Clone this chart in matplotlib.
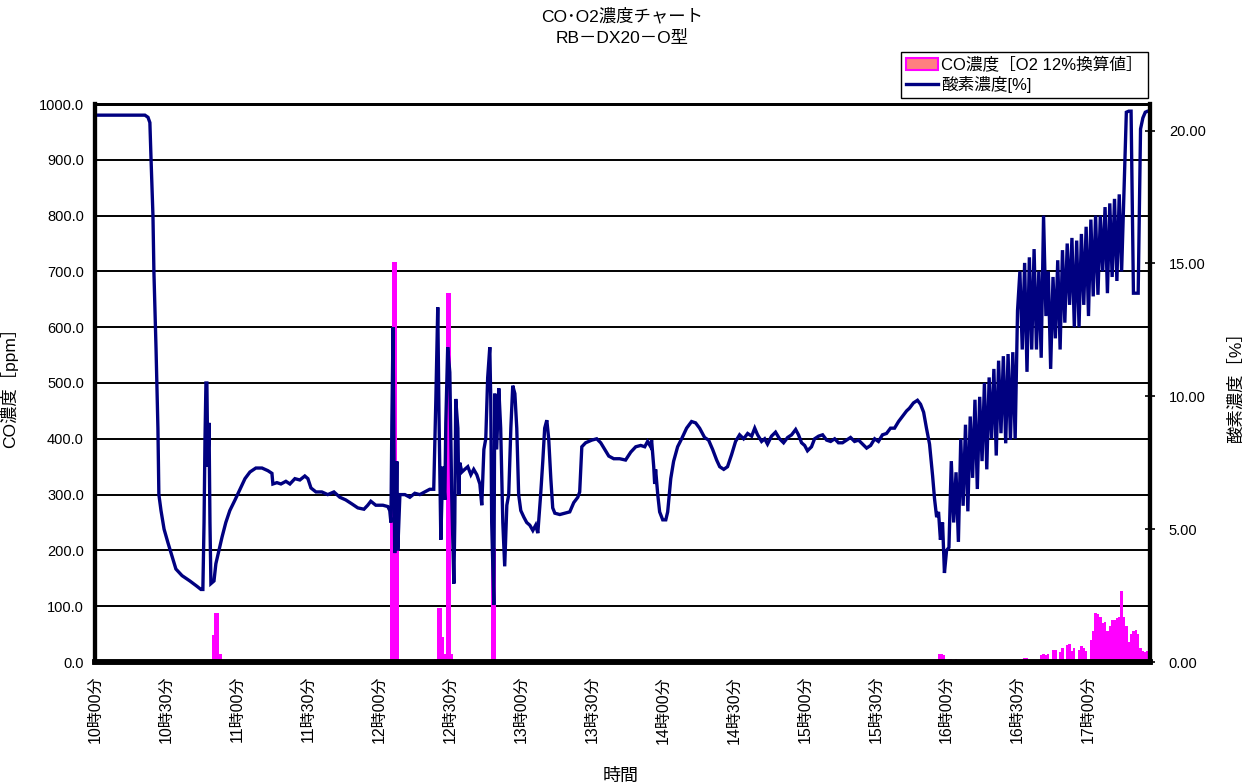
import matplotlib
matplotlib.use("Agg")
import matplotlib.pyplot as plt
from matplotlib.patches import Patch
from matplotlib.lines import Line2D

plt.rcParams["font.family"] = ["Liberation Sans", "Noto Sans CJK JP", "DejaVu Sans"]

# x axis: minutes after 10:00
time_labels = ["10時00分", "10時30分", "11時00分", "11時30分", "12時00分",
               "12時30分", "13時00分", "13時30分", "14時00分", "14時30分",
               "15時00分", "15時30分", "16時00分", "16時30分", "17時00分"]
tick_minutes = [0, 30, 60, 90, 120, 150, 180, 210, 240, 270, 300, 330, 360, 390, 420]

# CO concentration [ppm] (bars, left axis)
co_time = [50, 51, 52, 53,
           125, 126, 127, 128,
           144, 145, 146, 147, 148, 149, 150, 151,
           168, 169,
           357, 358, 359, 361, 362, 364,
           393, 394,
           400, 401, 402, 403, 405, 406, 408, 409,
           411, 412, 413, 414, 416, 417, 418, 419,
           421, 422, 423, 424, 425, 426, 427, 428, 429, 430,
           431, 432, 433, 434, 435, 436, 437, 438, 439, 440,
           441, 442, 443, 444, 445]
co_ppm = [48, 88, 88, 15,
          260, 717, 717, 250,
          5, 97, 97, 45, 15, 661, 661, 15,
          205, 205,
          15, 15, 12, 6, 6, 6,
          8, 8,
          12, 15, 12, 15, 22, 22, 18, 25,
          30, 32, 20, 25, 22, 28, 25, 20,
          40, 55, 88, 86, 80, 70, 72, 55, 65, 75,
          76, 78, 80, 127, 80, 65, 35, 50, 55, 58,
          50, 25, 20, 18, 20]

# oxygen concentration [%] (line, right axis)
o2_time = [0, 21.1, 22.4, 23.2, 23.7, 24.5, 24.9, 25.8, 26.6, 27.0,
           27.9, 29.2, 30.8, 32.5, 34.2, 36.8, 40.1, 43.1, 44.8, 45.6,
           46.1, 46.5, 46.9, 47.3, 47.7, 48.2, 48.6, 49.0, 50.3, 51.1,
           52.4, 53.7, 55.3, 57.0, 59.2, 61.3, 63.4, 65.5, 68.0, 70.6,
           73.1, 74.8, 75.2, 76.9, 78.6, 80.7, 82.4, 84.5, 86.6, 88.7,
           90.0, 91.3, 93.4, 95.9, 98.4, 101.0, 103.5, 106.0, 108.6, 111.1,
           113.7, 115.3, 116.6, 118.7, 121.7, 123.8, 124.6, 125.1, 125.5, 126.0,
           126.3, 126.7, 127.2, 127.6, 128.0, 128.9, 131.0, 133.1, 135.2, 137.3,
           139.4, 141.5, 143.2, 144.1, 144.9, 145.4, 146.2, 147.0, 147.9, 148.3,
           149.1, 150.0, 150.8, 151.7, 152.1, 152.5, 153.4, 153.8, 154.2, 155.1,
           156.3, 157.6, 158.9, 160.1, 161.4, 162.7, 163.5, 164.4, 165.2, 166.0,
           166.9, 167.3, 167.7, 168.6, 169.0, 169.8, 170.7, 171.5, 172.4, 173.2,
           174.1, 174.9, 175.8, 176.6, 177.5, 178.3, 179.1, 180.0, 181.3, 182.5,
           183.8, 185.1, 186.3, 187.2, 188.4, 189.3, 190.1, 191.0, 191.8, 192.7,
           193.5, 194.4, 196.5, 198.6, 200.7, 202.4, 204.1, 204.9, 205.8, 207.4,
           210.0, 212.1, 213.8, 215.5, 217.2, 219.3, 221.8, 224.3, 226.5, 228.6,
           230.7, 232.4, 233.6, 234.9, 235.3, 236.2, 236.6, 237.0, 237.9, 238.7,
           240.0, 241.3, 242.1, 243.4, 244.6, 246.3, 248.0, 250.1, 252.2, 253.9,
           255.6, 257.7, 259.4, 261.1, 262.8, 264.1, 265.8, 267.4, 269.1, 270.8,
           272.5, 274.2, 275.9, 277.6, 278.9, 280.1, 281.8, 283.1, 284.3, 286.0,
           287.7, 289.4, 291.1, 292.8, 294.5, 296.2, 297.4, 298.7, 300.0, 301.2,
           302.9, 304.2, 305.9, 307.6, 309.3, 311.0, 312.7, 314.3, 316.0, 317.7,
           319.4, 321.1, 322.8, 324.5, 326.2, 327.9, 329.6, 331.2, 332.9, 334.6,
           336.3, 338.0, 339.7, 341.4, 343.1, 344.3, 346.0, 347.7, 349.0, 350.3,
           351.5, 352.8, 354.1, 354.9, 355.8, 356.6, 357.4, 358.3, 359.1, 360.0]
o2_pct = [20.58, 20.58, 20.5, 20.3, 18.9, 16.8, 14.7, 11.8, 8.8, 6.3,
          5.7, 5.0, 4.5, 4.0, 3.5, 3.25, 3.05, 2.85, 2.73, 2.73,
          5.25, 8.4, 10.5, 10.5, 7.35, 9.0, 5.25, 2.95, 3.05, 3.7,
          4.2, 4.7, 5.25, 5.7, 6.1, 6.5, 6.9, 7.15, 7.3, 7.3,
          7.2, 7.1, 6.7, 6.75, 6.7, 6.8, 6.7, 6.9, 6.85, 7.0,
          6.9, 6.55, 6.4, 6.4, 6.3, 6.4, 6.2, 6.1, 5.95, 5.8,
          5.75, 5.9, 6.05, 5.9, 5.9, 5.85, 5.7, 5.25, 9.0, 12.6,
          8.8, 4.1, 5.25, 7.55, 4.2, 6.3, 6.3, 6.2, 6.35, 6.3,
          6.4, 6.5, 6.5, 9.9, 13.35, 9.45, 4.6, 7.35, 6.1, 9.0,
          11.85, 10.9, 6.3, 2.95, 5.25, 9.9, 8.8, 6.3, 7.5, 7.15,
          7.25, 7.35, 7.05, 7.25, 7.05, 6.7, 5.9, 8.0, 8.4, 10.7,
          11.85, 9.9, 5.25, 2.15, 10.1, 8.0, 10.3, 8.8, 5.25, 3.6,
          5.9, 6.3, 8.8, 10.4, 10.1, 8.8, 6.3, 5.7, 5.45, 5.25,
          5.15, 4.95, 5.15, 4.85, 6.3, 7.55, 8.8, 9.1, 8.4, 6.9,
          5.8, 5.6, 5.55, 5.6, 5.65, 6.0, 6.2, 6.4, 8.1, 8.25,
          8.35, 8.4, 8.25, 8.0, 7.75, 7.65, 7.65, 7.6, 7.9, 8.1,
          8.15, 8.1, 8.3, 8.1, 8.35, 7.35, 6.7, 7.25, 6.3, 5.65,
          5.35, 5.35, 5.65, 6.9, 7.55, 8.1, 8.4, 8.8, 9.05, 9.0,
          8.8, 8.45, 8.35, 8.0, 7.6, 7.35, 7.25, 7.35, 7.8, 8.3,
          8.55, 8.4, 8.6, 8.5, 8.8, 8.55, 8.3, 8.4, 8.2, 8.5,
          8.65, 8.4, 8.25, 8.45, 8.55, 8.75, 8.55, 8.25, 8.15, 7.95,
          8.1, 8.4, 8.5, 8.55, 8.35, 8.3, 8.4, 8.25, 8.25, 8.35,
          8.45, 8.3, 8.35, 8.2, 8.05, 8.15, 8.4, 8.3, 8.55, 8.6,
          8.8, 8.8, 9.05, 9.25, 9.45, 9.55, 9.75, 9.85, 9.7, 9.4,
          8.8, 8.2, 7.0, 6.15, 5.45, 5.65, 4.6, 5.25, 3.35, 4.2]

# last part, one reading per minute from 16:01
o2_tail_time = list(range(361, 447))
o2_tail_pct = [4.31, 7.56, 5.25, 7.14, 4.52, 8.4, 5.88, 8.93, 5.67, 9.24,
               6.93, 9.87, 6.51, 9.98, 7.56, 10.5, 7.25, 10.71, 8.4, 11.03,
               7.77, 11.34, 8.61, 11.51, 8.23, 11.59, 8.36, 11.66, 8.4, 13.23,
               14.7, 11.76, 15.02, 10.92, 15.23, 11.76, 15.54, 11.76, 14.7, 11.45,
               16.8, 13.02, 14.7, 11.03, 14.49, 12.18, 15.12, 11.76, 15.5, 12.77,
               15.75, 13.44, 15.96, 12.6, 15.86, 12.6, 16.11, 13.44, 16.38, 13.02,
               16.65, 13.76, 16.8, 13.82, 16.8, 14.7, 17.12, 13.88, 17.26, 14.49,
               17.43, 14.34, 17.6, 14.7, 17.66, 20.69, 20.73, 20.73, 13.88, 13.88,
               13.88, 20.06, 20.48, 20.69, 20.73, 20.73]

fig = plt.figure(figsize=(12.42, 7.83), dpi=100)
ax = fig.add_axes([95 / 1242, 1 - 662 / 783, (1150 - 95) / 1242, (662 - 104) / 783])
ax2 = ax.twinx()

ax.bar(co_time, co_ppm, width=1.0, color="#FF00FF", linewidth=0, zorder=2)
ax.set_xlim(0, 446)
ax.set_ylim(0, 1000)
ax.set_yticks(range(0, 1001, 100))
ax.set_yticklabels(["%.1f" % v for v in range(0, 1001, 100)], fontsize=10.5)
ax.grid(axis="y", color="black", linewidth=1.4)
ax.set_axisbelow(True)
ax.tick_params(axis="y", length=0, pad=8)
ax.set_xticks(tick_minutes)
ax.set_xticklabels(time_labels, rotation=90, fontsize=11.5)
ax.tick_params(axis="x", length=0, pad=10)
ax.set_ylabel("CO濃度［ppm］", fontsize=12.5)
ax.yaxis.set_label_coords(-0.073, 0.5)
ax.set_xlabel("時間", fontsize=13)
ax.xaxis.set_label_coords(0.498, -0.19)

ax2.plot(o2_time + o2_tail_time, o2_pct + o2_tail_pct, color="#000080", linewidth=2.4,
         solid_joinstyle="miter")
ax2.set_ylim(0, 21)
ax2.set_yticks([0, 5, 10, 15, 20])
ax2.set_yticklabels(["%.2f" % v for v in [0, 5, 10, 15, 20]], fontsize=10.5)
ax2.tick_params(axis="y", direction="inout", length=7, width=1.2, pad=10)
ax2.set_ylabel("酸素濃度［%］", fontsize=12.5, rotation=90)
ax2.yaxis.set_label_coords(1.073, 0.5)

for a in (ax, ax2):
    for side, lw in (("left", 3), ("right", 3), ("bottom", 4), ("top", 2)):
        a.spines[side].set_linewidth(lw)
        a.spines[side].set_color("black")

fig.text(622 / 1242, 1 - 16 / 783, "CO･O2濃度チャート", ha="center", va="center", fontsize=12.5)
fig.text(622 / 1242, 1 - 38 / 783, "RB－DX20－O型", ha="center", va="center", fontsize=12.5)

handles = [Patch(facecolor="#FF8080", edgecolor="#FF00FF", linewidth=1.5),
           Line2D([], [], color="#000080", linewidth=2.4)]
fig.legend(handles, ["CO濃度［O2 12%換算値］", "酸素濃度[%]"], loc="upper right",
           bbox_to_anchor=(1148 / 1242, 1 - 52 / 783), borderaxespad=0,
           fancybox=False, edgecolor="black", framealpha=1, fontsize=12,
           handlelength=1.9, handletextpad=0.2, borderpad=0.3, labelspacing=0.15)

fig.savefig("out.png", dpi=100)
